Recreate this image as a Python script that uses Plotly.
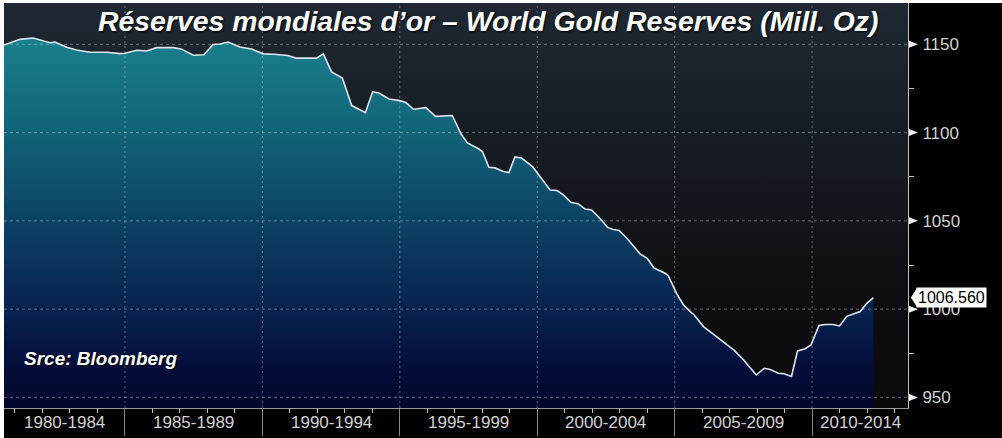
import plotly.graph_objects as go

# ---- data ----
YEARS = [1980.60, 1981.18, 1981.66, 1982.27, 1982.45, 1982.88, 1983.24, 1983.73, 1984.33, 1984.82,
         1985.00, 1985.43, 1985.79, 1986.15, 1986.76, 1987.04, 1987.49, 1987.87, 1988.21, 1988.46,
         1988.76, 1989.18, 1989.61, 1990.03, 1990.42, 1990.93, 1991.22, 1991.97, 1992.22, 1992.52,
         1992.91, 1993.25, 1993.75, 1994.01, 1994.22, 1994.61, 1995.00, 1995.22, 1995.50, 1995.95,
         1996.30, 1996.91, 1997.23, 1997.46, 1997.88, 1998.01, 1998.24, 1998.46, 1998.77, 1998.97,
         1999.19, 1999.43, 1999.83, 2000.10, 2000.47, 2000.72, 2000.95, 2001.23, 2001.50, 2001.74,
         2001.98, 2002.32, 2002.56, 2002.77, 2002.98, 2003.27, 2003.74, 2004.00, 2004.25, 2004.67,
         2004.77, 2005.08, 2005.32, 2005.56, 2005.71, 2006.05, 2006.66, 2007.17, 2007.51, 2007.97,
         2008.26, 2008.48, 2008.77, 2008.98, 2009.25, 2009.47, 2009.75, 2009.96, 2010.25, 2010.47,
         2010.76, 2011.00, 2011.26, 2011.50, 2011.75, 2011.99, 2012.23]

RESERVES = [1149.6, 1152.8, 1153.6, 1150.9, 1151.3, 1148.3, 1146.8, 1145.5, 1145.5, 1144.7,
            1144.9, 1146.6, 1146.2, 1148.1, 1148.1, 1147.4, 1143.8, 1144.1, 1149.9, 1150.2,
            1151.3, 1148.5, 1147.3, 1144.6, 1144.4, 1143.7, 1142.2, 1142.2, 1144.6, 1134.3,
            1130.9, 1115.3, 1111.3, 1123.1, 1122.5, 1119.0, 1118.1, 1117.0, 1113.2, 1114.1,
            1109.2, 1109.7, 1099.2, 1094.1, 1090.7, 1089.2, 1080.3, 1080.0, 1077.9, 1077.3,
            1086.2, 1085.6, 1080.7, 1075.4, 1067.5, 1067.2, 1064.7, 1060.5, 1059.6, 1056.7,
            1056.2, 1050.8, 1046.3, 1045.1, 1044.6, 1040.0, 1031.3, 1028.8, 1023.3, 1020.2,
            1018.8, 1008.6, 1002.4, 998.7, 996.7, 990.1, 982.6, 976.6, 971.2, 962.7,
            966.5, 965.8, 963.7, 963.4, 961.9, 976.3, 977.6, 979.7, 990.8, 991.3,
            991.3, 990.5, 995.9, 997.2, 998.6, 1003.3, 1006.56]

PERIOD_STARTS = [1980, 1985, 1990, 1995, 2000, 2005, 2010]
PERIOD_LABELS = ["1980-1984", "1985-1989", "1990-1994", "1995-1999",
                 "2000-2004", "2005-2009", "2010-2014"]
Y_TICKS = [950, 1000, 1050, 1100, 1150]
Y_MINOR = [975, 1025, 1075, 1125]

TITLE = "Réserves mondiales d’or – World Gold Reserves (Mill. Oz)"
SOURCE = "Srce: Bloomberg"

# ---- axis ranges / styling ----
X_MIN, X_MAX = 1980.60, 2013.49
Y_MIN, Y_MAX = 944.0, 1173.4
AXIS_FONT = dict(family="Liberation Sans, Arial, sans-serif", size=17, color="#d2d2d2")
GRID = dict(color="rgba(200,210,220,0.45)", width=1)

fig = go.Figure()

# plot-area background gradient
fig.add_trace(go.Scatter(
    x=[X_MIN, X_MAX, X_MAX, X_MIN, X_MIN], y=[Y_MIN, Y_MIN, Y_MAX, Y_MAX, Y_MIN],
    mode="none", fill="toself", hoverinfo="skip", showlegend=False,
    fillgradient=dict(type="vertical", start=Y_MIN, stop=Y_MAX,
                      colorscale=[[0, "#0a0a0c"], [0.3, "#0e0f12"], [0.55, "#14181e"], [1, "#1f2833"]]),
))

# reserves area
fig.add_trace(go.Scatter(
    x=YEARS, y=RESERVES, mode="lines", fill="tozeroy", hoverinfo="skip", showlegend=False,
    line=dict(color="#dde6ee", width=1.6),
    fillgradient=dict(type="vertical", start=Y_MIN, stop=1153,
                      colorscale=[[0, "#02072b"], [0.124, "#040f3c"], [0.268, "#08224f"],
                                  [0.507, "#0c4265"], [0.746, "#116378"], [1, "#1a7f8d"]]),
))

shapes = []
# black paper with thin white border on top/left
shapes.append(dict(type="rect", xref="paper", yref="paper", x0=0, x1=1.3, y0=-0.3, y1=1,
                   fillcolor="black", line=dict(width=0), layer="below"))
# gridlines above the fill
for v in Y_TICKS:
    shapes.append(dict(type="line", xref="paper", x0=0, x1=1, yref="y", y0=v, y1=v,
                       line=dict(color=GRID["color"], width=1, dash="3px,3px"), layer="above"))
for s in PERIOD_STARTS:
    if X_MIN < s < X_MAX:
        shapes.append(dict(type="line", xref="x", x0=s, x1=s, yref="paper", y0=0, y1=1,
                           line=dict(color=GRID["color"], width=1, dash="2px,3px"), layer="above"))
# triangle markers on the y-axis ticks
for v in Y_TICKS:
    shapes.append(dict(type="path", xref="paper", yref="y", xsizemode="pixel", ysizemode="pixel",
                       xanchor=1, yanchor=v, path="M1,-3.5L10,0L1,3.5Z",
                       fillcolor="#f0f0f0", line=dict(width=0), layer="above"))

last_val = RESERVES[-1]
LABEL_X = 1.0088
shapes.append(dict(type="path", xref="paper", yref="y", xsizemode="pixel", ysizemode="pixel",
                   xanchor=LABEL_X, yanchor=last_val, path="M1,-9.5L-5,0L1,9.5Z",
                   fillcolor="white", line=dict(width=0), layer="above"))

annotations = []
# period labels centred in the visible part of each period
for s, lab in zip(PERIOD_STARTS, PERIOD_LABELS):
    a, b = max(s, X_MIN), min(s + 5, X_MAX)
    annotations.append(dict(x=(a + b) / 2, xref="x", y=-0.035, yref="paper", text=lab,
                            showarrow=False, font=AXIS_FONT, xanchor="center", yanchor="middle"))

annotations.append(dict(x=LABEL_X, xref="paper", y=last_val, yref="y", text=f"{last_val:.3f}",
                        showarrow=False, xanchor="left", yanchor="middle", bgcolor="white",
                        borderpad=1, font=dict(family=AXIS_FONT["family"], size=16, color="black")))

annotations.append(dict(x=0.535, xref="paper", y=0.956, yref="paper", text=TITLE, showarrow=False,
                        xanchor="center", yanchor="middle",
                        font=dict(family="Liberation Sans, Arial, sans-serif", size=28.4, color="white",
                                  weight="bold", style="italic", shadow="1px 1px 2px #000")))
annotations.append(dict(x=0.0199, xref="paper", y=0.123, yref="paper", text=SOURCE, showarrow=False,
                        xanchor="left", yanchor="middle",
                        font=dict(family="Liberation Sans, Arial, sans-serif", size=19, color="white",
                                  weight="bold", style="italic", shadow="1px 1px 2px #000")))

fig.update_layout(
    width=1002, height=438,
    margin=dict(l=4, r=94, t=3, b=30, pad=0),
    paper_bgcolor="white", plot_bgcolor="#101216",
    showlegend=False,
    shapes=shapes, annotations=annotations,
    xaxis=dict(range=[X_MIN, X_MAX], showgrid=False, zeroline=False,
               showline=True, linecolor="#9a9a9a", linewidth=1,
               tickmode="array", tickvals=[s for s in PERIOD_STARTS if X_MIN < s < X_MAX],
               ticks="outside", ticklen=27, tickcolor="#8a8a8a", tickwidth=1,
               showticklabels=False,
               minor=dict(tickmode="linear", tick0=1980, dtick=1, ticks="outside",
                          ticklen=4, tickcolor="#c8c8c8", tickwidth=1, showgrid=False)),
    yaxis=dict(range=[Y_MIN, Y_MAX], side="right", showgrid=False, zeroline=False,
               showline=True, linecolor="#c0c0c0", linewidth=1,
               tickmode="array", tickvals=Y_TICKS, ticktext=[str(v) for v in Y_TICKS],
               ticks="outside", ticklen=10, tickcolor="rgba(0,0,0,0)",
               tickfont=AXIS_FONT,
               minor=dict(tickmode="array", tickvals=Y_MINOR, ticks="outside", ticklen=5,
                          tickcolor="#c8c8c8", tickwidth=1, showgrid=False)),
)

fig.write_html("out.html", config={"displayModeBar": False},
               post_script="document.body.style.margin='0';")
